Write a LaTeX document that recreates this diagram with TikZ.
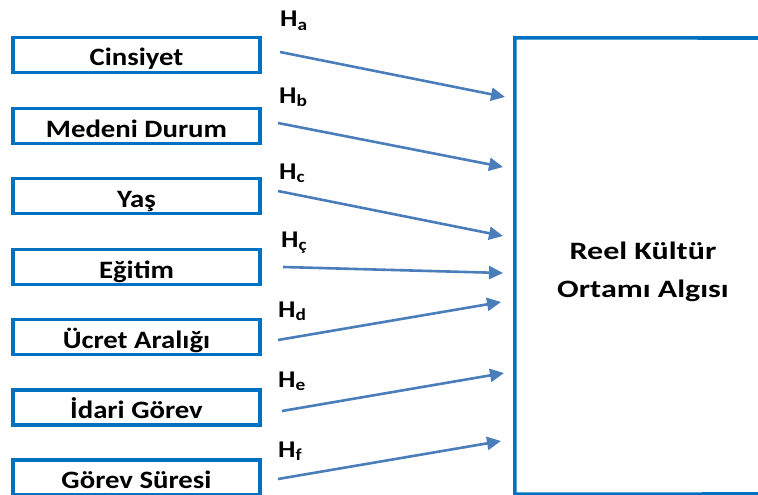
\documentclass[tikz,border=0pt]{standalone}
\usepackage{fontspec}
\setmainfont{Carlito}
\newfontfamily\lfont{Carlito}[FakeStretch=1.15]
\newfontfamily\rfont{Carlito}[FakeStretch=1.28]
\usetikzlibrary{arrows.meta}
\definecolor{boxblue}{HTML}{0070C0}
\definecolor{arrblue}{HTML}{4A7EBB}
\begin{document}
\begin{tikzpicture}[x=1pt,y=-1pt,
  inbox/.style={draw=boxblue, line width=3.6pt, minimum width=247pt, minimum height=35pt, inner sep=0pt, text height=24pt, text depth=2pt, font=\lfont\fontsize{25}{30}\selectfont\bfseries},
  outbox/.style={minimum width=256pt, minimum height=456pt, inner sep=0pt},
  outline/.style={draw=boxblue, line width=3.6pt},
  hyp/.style={anchor=base west, inner sep=0pt, font=\lfont\fontsize{24}{28}\selectfont\bfseries},
  link/.style={draw=arrblue, line width=2.6pt, -{Triangle[length=14pt,width=13pt]}}]
\useasboundingbox (0,0) rectangle (758,495);
\node[inbox] (cin) at (136.5,55) {Cinsiyet};
\node[inbox] (med) at (136.5,126) {Medeni Durum};
\node[inbox] (yas) at (136.5,196) {Yaş};
\node[inbox] (egi) at (136.5,267) {Eğitim};
\node[inbox] (ucr) at (136.5,337) {Ücret Aralığı};
\node[inbox] (ida) at (136.5,407.5) {İdari Görev};
\node[inbox] (gor) at (136.5,477.5) {Görev Süresi};
\node[outbox] (out) at (643,266) {};
\coordinate (tr) at (758,38);
\coordinate (br) at (758,494);
\draw[outline] (tr) -- (out.north west) -- (out.south west) -- (br);
\node[font=\rfont\fontsize{25}{38}\selectfont\bfseries, align=center] (lbl) at (643,272) {Reel Kültür\\Ortamı Algısı};
\node[hyp] (ha) at (280,27) {H\textsubscript{a}};
\node[hyp] (hb) at (279,103) {H\textsubscript{b}};
\node[hyp] (hc) at (279,179) {H\textsubscript{c}};
\node[hyp] (hcc) at (281,247) {H\textsubscript{ç}};
\node[hyp] (hd) at (278,317) {H\textsubscript{d}};
\node[hyp] (he) at (278,387) {H\textsubscript{e}};
\node[hyp] (hf) at (278,457) {H\textsubscript{f}};
\coordinate (sa) at (280,52);  \coordinate (ea) at (505,97);
\coordinate (sb) at (278,123); \coordinate (eb) at (503,167);
\coordinate (sc) at (278,191); \coordinate (ec) at (503,236);
\coordinate (scc) at (283,267); \coordinate (ecc) at (503,273);
\coordinate (sd) at (278,340); \coordinate (ed) at (501,302);
\coordinate (se) at (282,411); \coordinate (ee) at (504,373);
\coordinate (sf) at (278,479); \coordinate (ef) at (501,441);
\draw[link] (sa) -- (ea);
\draw[link] (sb) -- (eb);
\draw[link] (sc) -- (ec);
\draw[link] (scc) -- (ecc);
\draw[link] (sd) -- (ed);
\draw[link] (se) -- (ee);
\draw[link] (sf) -- (ef);
\end{tikzpicture}
\end{document}
